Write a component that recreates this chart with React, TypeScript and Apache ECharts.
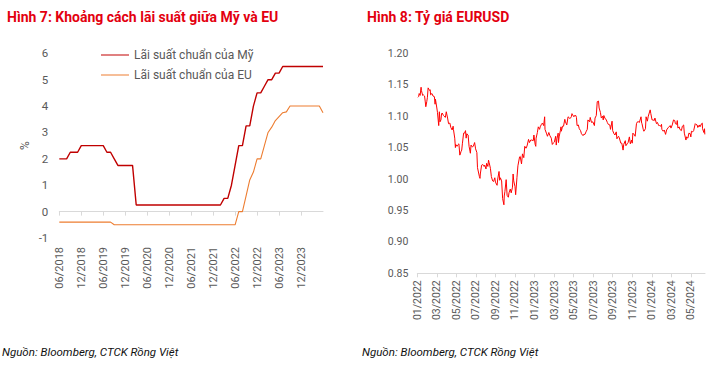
import React, { useEffect, useRef } from "react";
import * as echarts from "echarts";

// ---------- Figure 7: policy rates (monthly, 06/2018 -> 06/2024) ----------
const rateStart = { year: 2018, month: 6 };
const usRate: number[] = [
  2.0, 2.0, 2.0, 2.25, 2.25, 2.25, 2.5, // 2018 Jun-Dec
  2.5, 2.5, 2.5, 2.5, 2.5, 2.5, 2.25, 2.25, 2.0, 1.75, 1.75, 1.75, // 2019
  1.75, 1.75, 0.25, 0.25, 0.25, 0.25, 0.25, 0.25, 0.25, 0.25, 0.25, 0.25, // 2020
  0.25, 0.25, 0.25, 0.25, 0.25, 0.25, 0.25, 0.25, 0.25, 0.25, 0.25, 0.25, // 2021
  0.25, 0.25, 0.5, 0.5, 1.0, 1.75, 2.5, 2.5, 3.25, 3.25, 4.0, 4.5, // 2022
  4.5, 4.75, 5.0, 5.0, 5.25, 5.25, 5.5, 5.5, 5.5, 5.5, 5.5, 5.5, // 2023
  5.5, 5.5, 5.5, 5.5, 5.5, 5.5, // 2024 Jan-Jun
];
const euRate: number[] = [
  -0.4, -0.4, -0.4, -0.4, -0.4, -0.4, -0.4, // 2018 Jun-Dec
  -0.4, -0.4, -0.4, -0.4, -0.4, -0.4, -0.4, -0.4, -0.5, -0.5, -0.5, -0.5, // 2019
  -0.5, -0.5, -0.5, -0.5, -0.5, -0.5, -0.5, -0.5, -0.5, -0.5, -0.5, -0.5, // 2020
  -0.5, -0.5, -0.5, -0.5, -0.5, -0.5, -0.5, -0.5, -0.5, -0.5, -0.5, -0.5, // 2021
  -0.5, -0.5, -0.5, -0.5, -0.5, -0.5, 0.0, 0.0, 0.6, 1.2, 1.5, 2.0, // 2022
  2.0, 2.5, 3.0, 3.2, 3.45, 3.6, 3.75, 3.78, 4.0, 4.0, 4.0, 4.0, // 2023
  4.0, 4.0, 4.0, 4.0, 4.0, 3.75, // 2024 Jan-Jun
];
const usName = "Lãi suất chuẩn của Mỹ";
const euName = "Lãi suất chuẩn của EU";
const rateLabelEvery = 6; // months between x labels
const rateLastLabelIndex = 66; // 12/2023

// ---------- Figure 8: EURUSD ----------
const fxTickMonths: number[] = [0, 2, 4, 6, 8, 10, 12, 14, 16, 18, 20, 22, 24, 26, 28];
const eurusd: [string, number][] = [
  ["2022-01-03", 1.130], ["2022-01-05", 1.131], ["2022-01-07", 1.136], ["2022-01-10", 1.133],
  ["2022-01-13", 1.146], ["2022-01-14", 1.141], ["2022-01-18", 1.133], ["2022-01-20", 1.134],
  ["2022-01-24", 1.132], ["2022-01-26", 1.124], ["2022-01-28", 1.115], ["2022-01-31", 1.123],
  ["2022-02-02", 1.130], ["2022-02-04", 1.145], ["2022-02-08", 1.141], ["2022-02-10", 1.142],
  ["2022-02-11", 1.134], ["2022-02-15", 1.136], ["2022-02-18", 1.132], ["2022-02-22", 1.131],
  ["2022-02-24", 1.119], ["2022-02-25", 1.127], ["2022-03-01", 1.113], ["2022-03-03", 1.106],
  ["2022-03-07", 1.085], ["2022-03-09", 1.107], ["2022-03-11", 1.091], ["2022-03-14", 1.094],
  ["2022-03-16", 1.104], ["2022-03-18", 1.105], ["2022-03-22", 1.101], ["2022-03-24", 1.100],
  ["2022-03-28", 1.098], ["2022-03-31", 1.107], ["2022-04-04", 1.097], ["2022-04-07", 1.088],
  ["2022-04-11", 1.089], ["2022-04-14", 1.082], ["2022-04-18", 1.078], ["2022-04-21", 1.084],
  ["2022-04-22", 1.079], ["2022-04-26", 1.065], ["2022-04-28", 1.050], ["2022-04-29", 1.055],
  ["2022-05-03", 1.052], ["2022-05-05", 1.054], ["2022-05-09", 1.056], ["2022-05-12", 1.038],
  ["2022-05-16", 1.044], ["2022-05-18", 1.046], ["2022-05-20", 1.056], ["2022-05-24", 1.073],
  ["2022-05-27", 1.073], ["2022-05-30", 1.077], ["2022-06-01", 1.065], ["2022-06-03", 1.072],
  ["2022-06-07", 1.070], ["2022-06-10", 1.052], ["2022-06-14", 1.041], ["2022-06-16", 1.054],
  ["2022-06-20", 1.051], ["2022-06-23", 1.052], ["2022-06-27", 1.058], ["2022-06-30", 1.048],
  ["2022-07-04", 1.042], ["2022-07-06", 1.018], ["2022-07-08", 1.018], ["2022-07-12", 1.004],
  ["2022-07-14", 1.001], ["2022-07-15", 1.008], ["2022-07-19", 1.022], ["2022-07-21", 1.023],
  ["2022-07-25", 1.022], ["2022-07-27", 1.020], ["2022-07-29", 1.022], ["2022-08-02", 1.016],
  ["2022-08-04", 1.025], ["2022-08-08", 1.020], ["2022-08-10", 1.030], ["2022-08-12", 1.026],
  ["2022-08-16", 1.017], ["2022-08-19", 1.004], ["2022-08-23", 0.997], ["2022-08-26", 0.996],
  ["2022-08-30", 1.002], ["2022-09-01", 0.995], ["2022-09-06", 0.990], ["2022-09-08", 1.000],
  ["2022-09-12", 1.012], ["2022-09-14", 0.998], ["2022-09-16", 1.002], ["2022-09-20", 0.997],
  ["2022-09-23", 0.969], ["2022-09-27", 0.959], ["2022-09-28", 0.973], ["2022-09-30", 0.980],
  ["2022-10-04", 0.999], ["2022-10-07", 0.974], ["2022-10-11", 0.971], ["2022-10-13", 0.978],
  ["2022-10-17", 0.984], ["2022-10-20", 0.978], ["2022-10-24", 0.987], ["2022-10-26", 1.008],
  ["2022-10-28", 0.997], ["2022-11-01", 0.988], ["2022-11-03", 0.975], ["2022-11-07", 1.002],
  ["2022-11-10", 1.021], ["2022-11-15", 1.035], ["2022-11-17", 1.036], ["2022-11-21", 1.024],
  ["2022-11-24", 1.040], ["2022-11-28", 1.034], ["2022-12-01", 1.052], ["2022-12-05", 1.049],
  ["2022-12-07", 1.051], ["2022-12-09", 1.054], ["2022-12-13", 1.063], ["2022-12-15", 1.063],
  ["2022-12-16", 1.058], ["2022-12-20", 1.062], ["2022-12-23", 1.062], ["2022-12-28", 1.061],
  ["2022-12-30", 1.070], ["2023-01-03", 1.055], ["2023-01-05", 1.052], ["2023-01-06", 1.065],
  ["2023-01-10", 1.074], ["2023-01-13", 1.083], ["2023-01-17", 1.079], ["2023-01-19", 1.083],
  ["2023-01-23", 1.087], ["2023-01-26", 1.089], ["2023-01-30", 1.085], ["2023-02-02", 1.099],
  ["2023-02-03", 1.079], ["2023-02-07", 1.073], ["2023-02-10", 1.068], ["2023-02-14", 1.074],
  ["2023-02-17", 1.069], ["2023-02-21", 1.065], ["2023-02-24", 1.055], ["2023-02-28", 1.058],
  ["2023-03-02", 1.059], ["2023-03-06", 1.068], ["2023-03-08", 1.054], ["2023-03-10", 1.064],
  ["2023-03-14", 1.073], ["2023-03-15", 1.058], ["2023-03-17", 1.067], ["2023-03-21", 1.077],
  ["2023-03-23", 1.083], ["2023-03-24", 1.076], ["2023-03-28", 1.084], ["2023-03-31", 1.084],
  ["2023-04-04", 1.095], ["2023-04-06", 1.091], ["2023-04-10", 1.086], ["2023-04-14", 1.099],
  ["2023-04-18", 1.097], ["2023-04-20", 1.096], ["2023-04-24", 1.099], ["2023-04-26", 1.104],
  ["2023-04-28", 1.102], ["2023-05-02", 1.099], ["2023-05-04", 1.101], ["2023-05-08", 1.101],
  ["2023-05-10", 1.098], ["2023-05-12", 1.085], ["2023-05-16", 1.086], ["2023-05-19", 1.080],
  ["2023-05-23", 1.077], ["2023-05-26", 1.072], ["2023-05-31", 1.069], ["2023-06-02", 1.071],
  ["2023-06-06", 1.071], ["2023-06-09", 1.075], ["2023-06-13", 1.079], ["2023-06-15", 1.094],
  ["2023-06-20", 1.091], ["2023-06-22", 1.098], ["2023-06-26", 1.090], ["2023-06-30", 1.091],
  ["2023-07-05", 1.085], ["2023-07-07", 1.097], ["2023-07-11", 1.101], ["2023-07-14", 1.123],
  ["2023-07-18", 1.124], ["2023-07-20", 1.113], ["2023-07-24", 1.106], ["2023-07-27", 1.097],
  ["2023-07-31", 1.100], ["2023-08-02", 1.094], ["2023-08-04", 1.101], ["2023-08-08", 1.096],
  ["2023-08-11", 1.095], ["2023-08-15", 1.090], ["2023-08-18", 1.087], ["2023-08-23", 1.086],
  ["2023-08-25", 1.079], ["2023-08-30", 1.092], ["2023-09-01", 1.077], ["2023-09-05", 1.072],
  ["2023-09-08", 1.070], ["2023-09-12", 1.075], ["2023-09-14", 1.064], ["2023-09-19", 1.068],
  ["2023-09-21", 1.066], ["2023-09-26", 1.057], ["2023-09-29", 1.057], ["2023-10-03", 1.046],
  ["2023-10-05", 1.055], ["2023-10-10", 1.061], ["2023-10-12", 1.053], ["2023-10-16", 1.056],
  ["2023-10-19", 1.058], ["2023-10-23", 1.067], ["2023-10-26", 1.056], ["2023-10-30", 1.062],
  ["2023-11-01", 1.057], ["2023-11-03", 1.073], ["2023-11-08", 1.070], ["2023-11-10", 1.068],
  ["2023-11-14", 1.088], ["2023-11-17", 1.091], ["2023-11-21", 1.091], ["2023-11-23", 1.090],
  ["2023-11-28", 1.099], ["2023-11-30", 1.089], ["2023-12-01", 1.088], ["2023-12-05", 1.079],
  ["2023-12-07", 1.076], ["2023-12-12", 1.080], ["2023-12-14", 1.099], ["2023-12-18", 1.092],
  ["2023-12-21", 1.100], ["2023-12-27", 1.110], ["2023-12-29", 1.104], ["2024-01-02", 1.094],
  ["2024-01-05", 1.094], ["2024-01-09", 1.093], ["2024-01-11", 1.097], ["2024-01-16", 1.088],
  ["2024-01-19", 1.090], ["2024-01-23", 1.085], ["2024-01-26", 1.085], ["2024-01-30", 1.084],
  ["2024-02-01", 1.087], ["2024-02-02", 1.079], ["2024-02-06", 1.076], ["2024-02-09", 1.078],
  ["2024-02-13", 1.071], ["2024-02-16", 1.078], ["2024-02-21", 1.082], ["2024-02-23", 1.082],
  ["2024-02-27", 1.085], ["2024-02-29", 1.081], ["2024-03-04", 1.086], ["2024-03-08", 1.094],
  ["2024-03-12", 1.093], ["2024-03-14", 1.088], ["2024-03-18", 1.087], ["2024-03-20", 1.093],
  ["2024-03-22", 1.081], ["2024-03-26", 1.083], ["2024-03-28", 1.079], ["2024-04-02", 1.077],
  ["2024-04-05", 1.084], ["2024-04-09", 1.086], ["2024-04-11", 1.073], ["2024-04-16", 1.062],
  ["2024-04-18", 1.067], ["2024-04-22", 1.065], ["2024-04-25", 1.073], ["2024-04-29", 1.072],
  ["2024-05-01", 1.067], ["2024-05-03", 1.076], ["2024-05-07", 1.075], ["2024-05-10", 1.077],
  ["2024-05-15", 1.088], ["2024-05-17", 1.087], ["2024-05-21", 1.086], ["2024-05-23", 1.082],
  ["2024-05-28", 1.086], ["2024-05-30", 1.083], ["2024-06-04", 1.088], ["2024-06-06", 1.089],
  ["2024-06-07", 1.080], ["2024-06-11", 1.074], ["2024-06-13", 1.080], ["2024-06-14", 1.071],
];
const fxStartYear = 2022;
const fxAxisMax = 29.45; // months after 01/2022 (mid-June 2024)

const title7 = "Hình 7: Khoảng cách lãi suất giữa Mỹ và EU";
const title8 = "Hình 8: Tỷ giá EURUSD";
const source = "Nguồn: Bloomberg, CTCK Rồng Việt";

const pad = (n: number) => (n < 10 ? "0" + n : "" + n);

function rateMonths(): string[] {
  const out: string[] = [];
  for (let i = 0; i < usRate.length; i++) {
    const m0 = rateStart.month - 1 + i;
    const y = rateStart.year + Math.floor(m0 / 12);
    const m = (m0 % 12) + 1;
    out.push(pad(m) + "/" + y);
  }
  return out;
}

function monthIndex(date: string): number {
  const [y, m, d] = date.split("-").map(Number);
  const days = new Date(y, m, 0).getDate();
  return (y - fxStartYear) * 12 + (m - 1) + (d - 1) / days;
}

function monthLabel(v: number): string {
  const r = Math.round(v);
  const y = fxStartYear + Math.floor(r / 12);
  const m = (r % 12) + 1;
  return pad(m) + "/" + y;
}

const showRateTick = (i: number) => i % rateLabelEvery === 0 && i <= rateLastLabelIndex;

const GRAY = "#595959";
const AXIS = "#d9d9d9";
const FONT = "Roboto, 'Noto Sans', sans-serif";
const TITLE_FONT = "'Liberation Sans Narrow', 'Roboto', sans-serif";

export default function App() {
  const ref = useRef<HTMLDivElement>(null);

  useEffect(() => {
    if (!ref.current) return;
    const chart = echarts.init(ref.current, undefined, { renderer: "svg" });
    const months = rateMonths();

    const option: any = {
      animation: false,
      backgroundColor: "#ffffff",
      title: [
        {
          text: title7,
          left: 2,
          top: 5,
          textStyle: { color: "#e3000f", fontSize: 14, fontWeight: "bold", fontFamily: TITLE_FONT },
        },
        {
          text: title8,
          left: 362,
          top: 5,
          textStyle: { color: "#e3000f", fontSize: 14, fontWeight: "bold", fontFamily: TITLE_FONT },
        },
      ],
      legend: {
        data: [usName, euName],
        orient: "vertical",
        left: 96,
        top: 44,
        itemWidth: 28,
        itemHeight: 1,
        itemGap: 8,
        icon: "rect",
        textStyle: { color: GRAY, fontSize: 12, fontFamily: FONT },
      },
      graphic: [
        {
          type: "text",
          left: 2,
          top: 346,
          style: { text: source, fontSize: 11.5, fontStyle: "italic", fill: "#111", fontFamily: TITLE_FONT },
        },
        {
          type: "text",
          left: 362,
          top: 346,
          style: { text: source, fontSize: 11.5, fontStyle: "italic", fill: "#111", fontFamily: TITLE_FONT },
        },
      ],
      grid: [
        { left: 59.3, top: 53.3, width: 263.7, height: 184.7 },
        { left: 417.3, top: 53.3, width: 287.7, height: 220 },
      ],
      xAxis: [
        {
          type: "category",
          gridIndex: 0,
          data: months,
          boundaryGap: false,
          axisLine: { onZero: true, lineStyle: { color: AXIS, width: 1 } },
          axisTick: { show: true, interval: showRateTick, length: 4, lineStyle: { color: AXIS } },
          axisLabel: { show: false },
          splitLine: { show: false },
        },
        {
          type: "category",
          gridIndex: 0,
          data: months,
          boundaryGap: false,
          position: "bottom",
          axisLine: { show: false, onZero: false },
          axisTick: { show: false },
          axisLabel: {
            interval: showRateTick,
            rotate: 90,
            margin: 9,
            fontSize: 11,
            color: GRAY,
            fontFamily: FONT,
          },
          splitLine: { show: false },
        },
        {
          type: "value",
          gridIndex: 1,
          min: 0,
          max: fxAxisMax,
          interval: 2,
          axisLine: { onZero: false, lineStyle: { color: AXIS, width: 1 } },
          axisTick: { show: true, length: 4, lineStyle: { color: AXIS }, customValues: fxTickMonths },
          axisLabel: {
            customValues: fxTickMonths,
            rotate: 90,
            margin: 7,
            fontSize: 10.5,
            color: GRAY,
            fontFamily: FONT,
            formatter: (v: number) => monthLabel(v),
          },
          splitLine: { show: false },
        },
      ],
      yAxis: [
        {
          type: "value",
          gridIndex: 0,
          min: -1,
          max: 6,
          interval: 1,
          name: "%",
          nameLocation: "middle",
          nameRotate: 90,
          nameGap: 28,
          nameTextStyle: { color: GRAY, fontSize: 12, fontFamily: FONT },
          axisLine: { show: false },
          axisTick: { show: false },
          splitLine: { show: false },
          axisLabel: { fontSize: 11.5, color: GRAY, margin: 11, fontFamily: FONT },
        },
        {
          type: "value",
          gridIndex: 1,
          min: 0.85,
          max: 1.2,
          interval: 0.05,
          axisLine: { show: false },
          axisTick: { show: false },
          splitLine: { show: false },
          axisLabel: {
            fontSize: 10.5,
            color: GRAY,
            margin: 9,
            fontFamily: FONT,
            formatter: (v: number) => v.toFixed(2),
          },
        },
      ],
      series: [
        {
          name: usName,
          type: "line",
          xAxisIndex: 0,
          yAxisIndex: 0,
          data: usRate,
          showSymbol: false,
          color: "#c00000",
          lineStyle: { color: "#c00000", width: 1.4 },
        },
        {
          name: euName,
          type: "line",
          xAxisIndex: 0,
          yAxisIndex: 0,
          data: euRate,
          showSymbol: false,
          color: "#ed7d31",
          lineStyle: { color: "#ed7d31", width: 1.1 },
        },
        {
          name: "EURUSD",
          type: "line",
          xAxisIndex: 2,
          yAxisIndex: 1,
          data: eurusd.map(([d, v]) => [monthIndex(d), v]),
          showSymbol: false,
          color: "#ff0000",
          lineStyle: { color: "#ff0000", width: 1 },
        },
      ],
    };

    chart.setOption(option);
    return () => chart.dispose();
  }, []);

  return (
    <div
      ref={ref}
      style={{ position: "absolute", left: 0, top: 0, width: 725, height: 367, background: "#fff" }}
    />
  );
}
